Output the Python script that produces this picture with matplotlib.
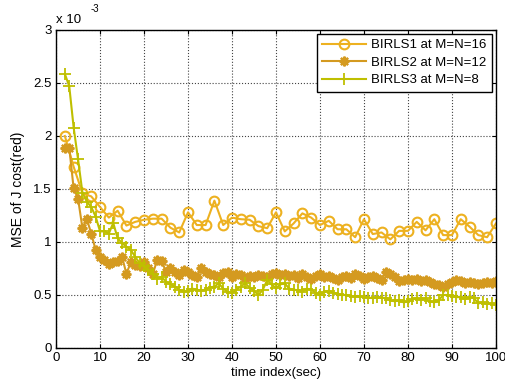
import numpy as np
from matplotlib import pyplot as plt

plt.rcParams['font.family'] = ['Liberation Sans', 'DejaVu Sans']

# Data (values in units of 1e-3)
t1 = list(range(2, 101, 2))
mse1 = [2.0, 1.71, 1.46, 1.43, 1.33, 1.23, 1.295, 1.155, 1.19, 1.21,
        1.22, 1.22, 1.135, 1.09, 1.28, 1.16, 1.16, 1.39, 1.16, 1.23,
        1.215, 1.21, 1.15, 1.13, 1.28, 1.10, 1.175, 1.27, 1.23, 1.16,
        1.20, 1.12, 1.12, 1.045, 1.215, 1.075, 1.09, 1.025, 1.105, 1.105,
        1.19, 1.11, 1.215, 1.065, 1.065, 1.215, 1.145, 1.065, 1.045, 1.175]

t2 = list(range(2, 101))
mse2 = [1.89, 1.89, 1.505, 1.41, 1.13, 1.215, 1.08, 0.925, 0.86, 0.83,
        0.79, 0.81, 0.82, 0.86, 0.70, 0.81, 0.78, 0.77, 0.81, 0.75,
        0.70, 0.83, 0.82, 0.72, 0.755, 0.72, 0.69, 0.74, 0.72, 0.69,
        0.67, 0.75, 0.72, 0.70, 0.69, 0.67, 0.71, 0.72, 0.67, 0.70,
        0.69, 0.66, 0.68, 0.67, 0.69, 0.68, 0.67, 0.70, 0.71, 0.69,
        0.70, 0.68, 0.69, 0.66, 0.70, 0.67, 0.65, 0.68, 0.70, 0.67,
        0.68, 0.66, 0.64, 0.67, 0.68, 0.66, 0.70, 0.68, 0.65, 0.67,
        0.68, 0.66, 0.64, 0.72, 0.70, 0.67, 0.63, 0.64, 0.65, 0.64,
        0.65, 0.63, 0.64, 0.62, 0.60, 0.59, 0.58, 0.60, 0.62, 0.64,
        0.63, 0.61, 0.62, 0.615, 0.60, 0.61, 0.62, 0.61, 0.63]

t3 = list(range(2, 101))
mse3 = [2.585, 2.47, 2.08, 1.78, 1.465, 1.38, 1.33, 1.24, 1.10, 1.10,
        1.08, 1.18, 1.035, 0.99, 0.955, 0.925, 0.86, 0.80, 0.77, 0.735,
        0.70, 0.655, 0.67, 0.625, 0.60, 0.58, 0.55, 0.53, 0.54, 0.56,
        0.55, 0.54, 0.55, 0.57, 0.58, 0.61, 0.56, 0.53, 0.52, 0.55,
        0.58, 0.61, 0.57, 0.54, 0.50, 0.55, 0.64, 0.60, 0.565, 0.60,
        0.61, 0.56, 0.55, 0.545, 0.53, 0.56, 0.55, 0.52, 0.50, 0.53,
        0.54, 0.52, 0.51, 0.50, 0.50, 0.49, 0.485, 0.49, 0.48, 0.475,
        0.47, 0.48, 0.475, 0.47, 0.45, 0.44, 0.45, 0.43, 0.44, 0.46,
        0.47, 0.455, 0.47, 0.44, 0.43, 0.45, 0.50, 0.50, 0.49, 0.48,
        0.48, 0.46, 0.48, 0.47, 0.42, 0.43, 0.415, 0.42, 0.41]

labels = ['BIRLS1 at M=N=16', 'BIRLS2 at M=N=12', 'BIRLS3 at M=N=8']
colors = ['#EDB120', '#D49A20', '#BFBF00']

fig = plt.figure(figsize=(5.05, 3.83), dpi=100)
ax = fig.add_axes([0.111, 0.0914, 0.871, 0.8303])

ax.plot(t1, mse1, color=colors[0], marker='o', mfc='none', ms=7, mew=1.5, lw=1.5, label=labels[0])
ax.plot(t2, mse2, color=colors[1], marker=(8, 2, 0), ms=7, mew=1.6, lw=1.5, label=labels[1])
ax.plot(t3, mse3, color=colors[2], marker='+', ms=8, mew=1.3, lw=1.5, label=labels[2])

ax.set_xlim(0, 100)
ax.set_ylim(0, 3)
ax.set_xticks(range(0, 101, 10))
ax.set_yticks([0, 0.5, 1, 1.5, 2, 2.5, 3])
ax.set_yticklabels(['0', '0.5', '1', '1.5', '2', '2.5', '3'])
ax.grid(True, color='#444444', linestyle=':', linewidth=0.8)
ax.tick_params(direction='in', top=True, right=True, labelsize=9.5, length=3, pad=3)
for s in ax.spines.values():
    s.set_linewidth(1.0)

ax.text(0.0, 1.012, 'x 10', transform=ax.transAxes, fontsize=9.5, ha='left', va='bottom')
ax.text(0.078, 1.05, '-3', transform=ax.transAxes, fontsize=7, ha='left', va='bottom')

ax.set_xlabel('time index(sec)', fontsize=9.5, labelpad=2)
ax.set_ylabel('MSE of J cost(red)', fontsize=10, labelpad=6)

leg = ax.legend(loc='upper right', fontsize=9.5, fancybox=False, framealpha=1,
                edgecolor='black', handlelength=3.3, handletextpad=0.4,
                borderpad=0.4, labelspacing=0.4, borderaxespad=0.3)
leg.get_frame().set_linewidth(1.0)

fig.savefig('out.png', dpi=100)
